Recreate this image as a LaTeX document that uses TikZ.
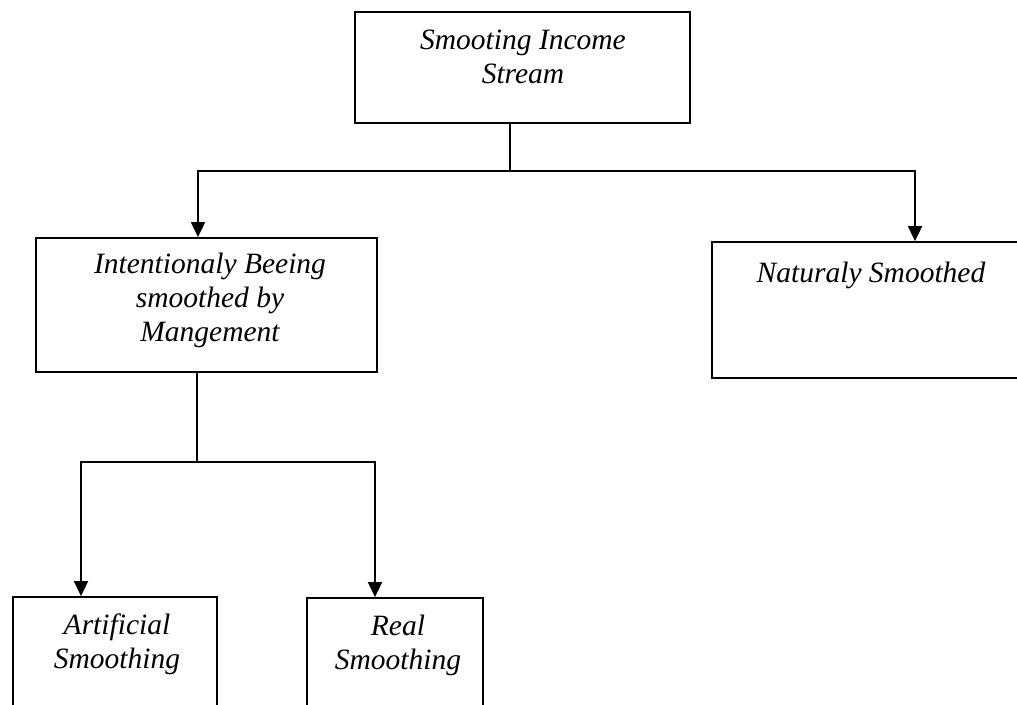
\documentclass[tikz,border=0pt]{standalone}
\usepackage{fontspec}
\setmainfont{Liberation Serif}
\usetikzlibrary{arrows.meta}
\begin{document}
\begin{tikzpicture}[x=1pt,y=-1pt,
  box/.style={draw, line width=1.8pt, inner sep=0pt},
  lbl/.style={anchor=north, align=center, inner sep=0pt,
    font=\fontsize{29.5}{34}\selectfont\itshape},
  conn/.style={line width=1.8pt},
  arr/.style={line width=1.8pt, -{Triangle[width=14pt,length=15pt]}}]
\useasboundingbox (0,0) rectangle (1017,704);
% boxes
\node[box, minimum width=335pt, minimum height=111pt] (top) at (522.5,67.5) {};
\node[box, minimum width=341pt, minimum height=134pt] (int) at (206.5,305) {};
\node[box, minimum width=318pt, minimum height=136pt] (nat) at (871,310) {};
\node[box, minimum width=204pt, minimum height=143pt] (art) at (115,668.5) {};
\node[box, minimum width=176pt, minimum height=142pt] (real) at (395,669) {};
% texts
\node[lbl] (ttop) at (523,30) {Smooting Income\\Stream};
\node[lbl] (tint) at (210,253) {Intentionaly Beeing\\smoothed by\\Mangement};
\node[lbl] (tnat) at (871,262) {Naturaly Smoothed};
\node[lbl] (tart) at (117,614) {Artificial\\Smoothing};
\node[lbl] (treal) at (398,615) {Real\\Smoothing};
% connectors
\coordinate (j1) at (510,171);
\coordinate (d1) at (198,171);
\coordinate (d2) at (915,171);
\draw[conn] (top.south -| j1) -- (j1);
\draw[arr] (j1) -- (d1) -- (d1 |- int.north);
\draw[arr] (j1) -- (d2) -- (d2 |- nat.north);
\coordinate (j2) at (197,462);
\coordinate (d3) at (81,462);
\coordinate (d4) at (375,462);
\draw[conn] (int.south -| j2) -- (j2);
\draw[arr] (j2) -- (d3) -- (d3 |- art.north);
\draw[arr] (j2) -- (d4) -- (d4 |- real.north);
\end{tikzpicture}
\end{document}
